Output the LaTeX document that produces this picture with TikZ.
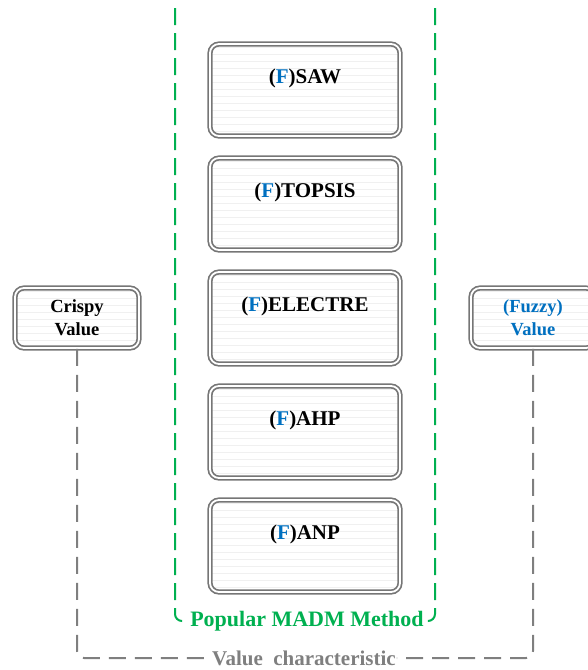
\documentclass[tikz,border=0pt]{standalone}
\usepackage{fontspec}
\setmainfont{Liberation Serif}
\definecolor{mgreen}{RGB}{0,176,80}
\definecolor{fblue}{RGB}{0,112,192}
\definecolor{linegray}{RGB}{127,127,127}
\definecolor{framegray}{RGB}{118,118,118}
\tikzset{
  framebox/.style={draw=framegray, double=white, double distance=1.8pt,
    line width=1.7pt, rounded corners=9pt, fill=white,
    path picture={
      \foreach \k in {3,10,...,150}
        \draw[black!6, line width=1pt]
          ([yshift=-\k pt]path picture bounding box.north west) --
          ([yshift=-\k pt]path picture bounding box.north east);
    }},
  method/.style={framebox, minimum width=190pt, minimum height=92pt,
    text height=14.5pt, text depth=28pt,
    font=\rmfamily\bfseries\fontsize{21}{25}\selectfont},
  side/.style={framebox, minimum width=124pt, minimum height=60pt,
    align=center, font=\rmfamily\bfseries\fontsize{18.5}{23}\selectfont},
  greendash/.style={draw=mgreen, line width=2pt, dash pattern=on 17pt off 8pt,
    rounded corners=7pt},
  graydash/.style={draw=linegray, line width=2pt, dash pattern=on 17pt off 9pt,
    rounded corners=7pt},
}
\newcommand{\fz}{(\textcolor{fblue}{F})}
\begin{document}
\begin{tikzpicture}[x=1pt,y=-1pt]
  \useasboundingbox (0,0) rectangle (588,670);

  % method group bracket
  \coordinate (gtl) at (175,8);
  \coordinate (gtr) at (435,8);
  \node[text=mgreen, inner xsep=4pt, inner ysep=1pt,
        font=\rmfamily\bfseries\fontsize{22}{26}\selectfont] (madm) at (307,621)
        {Popular MADM Method};
  \draw[greendash] (gtl) |- (madm.west);
  \draw[greendash] (gtr) |- (madm.east);

  % methods
  \node[method] (saw)     at (305,90)  {\fz SAW};
  \node[method] (topsis)  at (305,204) {\fz TOPSIS};
  \node[method] (electre) at (305,318) {\fz ELECTRE};
  \node[method] (ahp)     at (305,432) {\fz AHP};
  \node[method] (anp)     at (305,546) {\fz ANP};

  % value types
  \node[side] (crisp) at (77,318) {Crispy\\Value};
  \node[side, text=fblue] (fuzzy) at (533,318) {(Fuzzy)\\Value};

  % value characteristic connector
  \node[text=linegray, inner xsep=1pt, inner ysep=0pt,
        font=\rmfamily\bfseries\fontsize{21}{25}\selectfont] (vchar) at (304,658)
        {Value~~characteristic};
  \draw[graydash] (crisp.south) |- (vchar.west);
  \draw[graydash] (fuzzy.south) |- (vchar.east);
\end{tikzpicture}
\end{document}
